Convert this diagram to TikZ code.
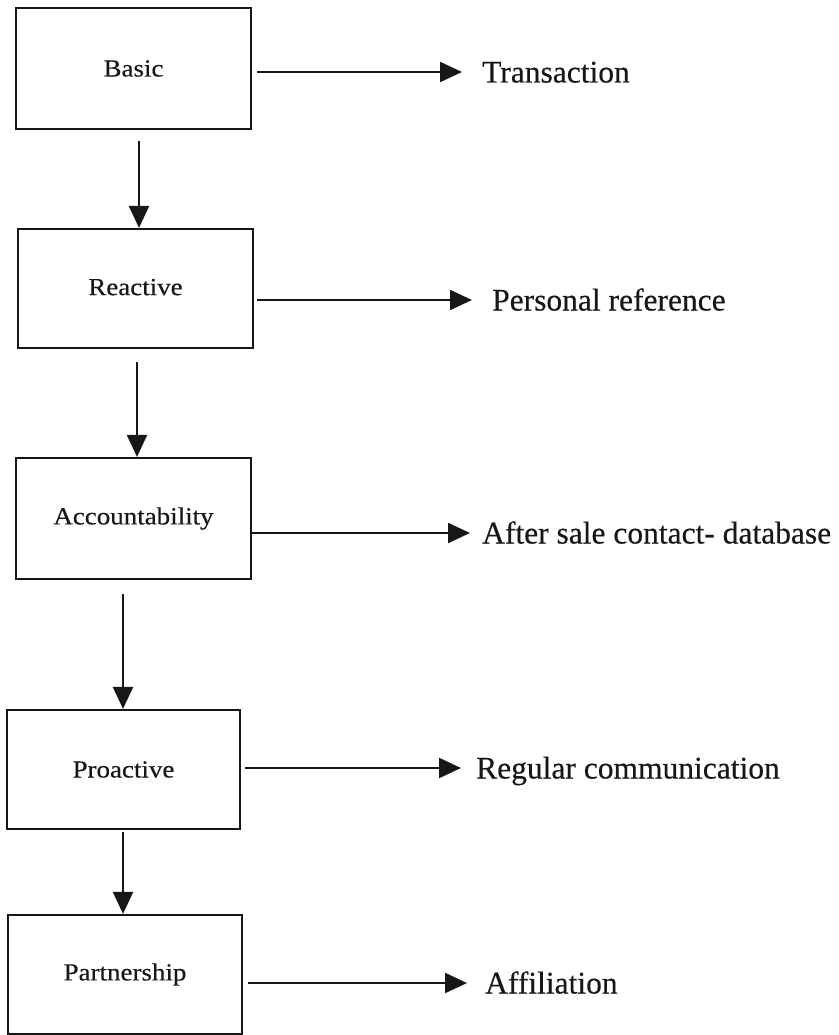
\documentclass[tikz,border=0pt]{standalone}
\usepackage{fontspec}
\setmainfont[FakeBold=0.4]{Liberation Serif}
\newfontfamily\boxfont[FakeStretch=1.1,FakeBold=0.4]{Liberation Serif}
\usetikzlibrary{arrows.meta}
\definecolor{ink}{rgb}{0.09,0.09,0.09}
\begin{document}
\begin{tikzpicture}[x=1pt,y=-1pt,
  stage/.style={draw=ink, line width=2.2pt, inner sep=0pt, text=ink,
    font=\boxfont\fontsize{24.5}{28}\selectfont},
  outcome/.style={anchor=west, inner sep=0pt, text=ink, text height=21pt, text depth=0pt,
    font=\fontsize{31.5}{36}\selectfont},
  flow/.style={draw=ink, line width=2.2pt, -{Triangle[length=22pt,width=20pt]}}]
\useasboundingbox (0,0) rectangle (838,1035);

% stages of the relationship
\node[stage, minimum width=235pt, minimum height=121pt] (basic) at (133.5,68.5) {Basic};
\node[stage, minimum width=235pt, minimum height=119pt] (reactive) at (135.5,288.5) {\raisebox{3pt}{Reactive}};
\node[stage, minimum width=235pt, minimum height=121pt] (account) at (133.5,518.5) {\raisebox{2pt}{Accountability}};
\node[stage, minimum width=233pt, minimum height=119pt] (proactive) at (123.5,769.5) {Proactive};
\node[stage, minimum width=234pt, minimum height=119pt] (partner) at (125,974.5) {Partnership};

% what each stage amounts to
\node[outcome] (transaction) at (482,72) {Transaction};
\node[outcome] (personal) at (492,300) {Personal reference};
\node[outcome] (aftersale) at (482,533) {After sale contact- database};
\node[outcome] (regular) at (476,768) {Regular communication};
\node[outcome] (affiliation) at (485,983) {Affiliation};

% progression downwards
\draw[flow] ([xshift=5.5pt,yshift=-11pt]basic.south) -- ([xshift=3.5pt]reactive.north);
\draw[flow] ([xshift=1.5pt,yshift=-13pt]reactive.south) -- ([xshift=3.5pt]account.north);
\draw[flow] ([xshift=-10.5pt,yshift=-14pt]account.south) -- ([xshift=-0.5pt]proactive.north);
\draw[flow] ([xshift=-0.5pt,yshift=-2pt]proactive.south) -- ([xshift=-2pt]partner.north);

% stage to outcome
\draw[flow, shorten <=5pt, shorten >=20pt] (basic.east |- transaction.west) -- (transaction.west);
\draw[flow, shorten <=3pt, shorten >=20pt] (reactive.east |- personal.west) -- (personal.west);
\draw[flow, shorten >=12pt] (account.east |- aftersale.west) -- (aftersale.west);
\draw[flow, shorten <=4pt, shorten >=15pt] (proactive.east |- regular.west) -- (regular.west);
\draw[flow, shorten <=5pt, shorten >=18pt] (partner.east |- affiliation.west) -- (affiliation.west);
\end{tikzpicture}
\end{document}
